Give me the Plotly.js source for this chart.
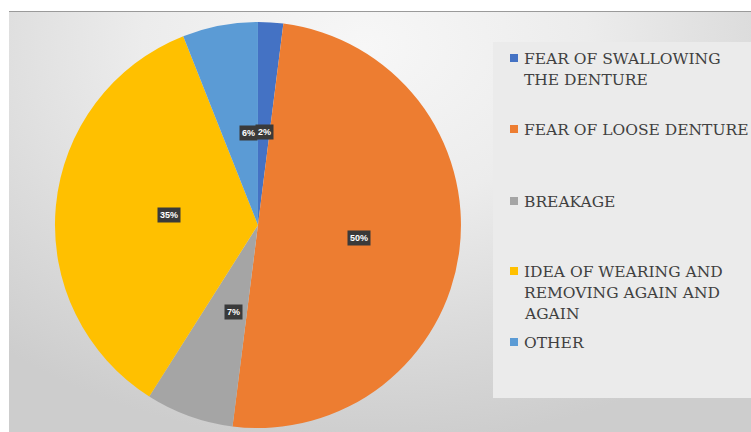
<!DOCTYPE html>
<html>
<head>
<meta charset="utf-8">
<script src="https://cdn.plot.ly/plotly-3.0.1.min.js"></script>
<style>
  html, body { margin:0; padding:0; background:#ffffff; }
  #wrap { position:relative; width:751px; height:432px; overflow:hidden; }
  #bg { position:absolute; left:9px; top:11px; width:742px; height:421px;
        border-top:1px solid #9a9a9a;
        background: radial-gradient(ellipse 75% 95% at 48% 8%, #f7f7f7 0%, #ececec 40%, #dcdcdc 70%, #cdcdcd 100%); }
  #chart { position:absolute; left:0; top:0; width:751px; height:432px; }
</style>
</head>
<body>
<div id="wrap"><div id="bg"></div><div id="chart"></div></div>
<script>
// ---- data ----
const categories = [
  "FEAR OF SWALLOWING<br>THE DENTURE",
  "FEAR OF LOOSE DENTURE",
  "BREAKAGE",
  "IDEA OF WEARING AND<br>REMOVING AGAIN AND<br>AGAIN",
  "OTHER"
];
const values = [2, 50, 7, 35, 6];
const colors = ["#4472C4", "#ED7D31", "#A5A5A5", "#FFC000", "#5B9BD5"];

// ---- layout constants ----
const W = 751, H = 432;
const domX = [0.0732, 0.6138];
const domY = [0.0093, 0.9491];
const legendFirstLineY = [59, 130, 202, 272, 343];
const legendLineGap = 21;
const legendTextX = 522;
const legendMarkX = 514;
const serif = 'DejaVu Serif';

const total = values.reduce((a, b) => a + b, 0);
const cx = (domX[0] + domX[1]) / 2 * W;
const cyPaper = (domY[0] + domY[1]) / 2;
const cy = (1 - cyPaper) * H;
const R = Math.min((domX[1] - domX[0]) * W, (domY[1] - domY[0]) * H) / 2;

const annotations = [];
const shapes = [];

// slice labels (dark boxes), placed at mid-angle, half radius
let cum = 0;
values.forEach((v, i) => {
  const mid = (cum + v / 2) / total * 2 * Math.PI;
  cum += v;
  const px = cx + 0.5 * R * Math.sin(mid);
  const py = cy - 0.5 * R * Math.cos(mid);
  annotations.push({
    x: px / W, y: 1 - py / H, xref: 'paper', yref: 'paper',
    text: Math.round(v / total * 100) + '%',
    showarrow: false,
    font: { family: 'Liberation Sans', size: 9, color: '#ffffff', weight: 'bold' },
    bgcolor: '#3a3a3a', borderpad: 2
  });
});

// custom legend
categories.forEach((c, i) => {
  const lines = c.split('<br>');
  lines.forEach((ln, j) => {
    annotations.push({
      x: legendTextX / W, y: 1 - (legendFirstLineY[i] + j * legendLineGap) / H,
      xref: 'paper', yref: 'paper', xanchor: 'left', yanchor: 'middle',
      text: ln, showarrow: false,
      font: { family: serif, size: 15.5, color: '#404040' }
    });
  });
  const my = legendFirstLineY[i] - 1;
  shapes.push({
    type: 'rect', xref: 'paper', yref: 'paper',
    x0: (legendMarkX - 4) / W, x1: (legendMarkX + 4) / W,
    y0: 1 - (my + 4) / H, y1: 1 - (my - 4) / H,
    fillcolor: colors[i], line: { width: 0 }
  });
});

// legend panel
shapes.unshift({
  type: 'rect', xref: 'paper', yref: 'paper', layer: 'below',
  x0: 493 / W, x1: 1, y0: 1 - 398 / H, y1: 1 - 42 / H,
  fillcolor: '#ebebeb', line: { width: 0 }
});

const trace = {
  type: 'pie',
  labels: categories,
  values: values,
  sort: false,
  direction: 'clockwise',
  rotation: 0,
  marker: { colors: colors, line: { width: 0 } },
  textinfo: 'none',
  hoverinfo: 'label+percent',
  domain: { x: domX, y: domY },
  showlegend: false
};

const layout = {
  width: W, height: H,
  margin: { l: 0, r: 0, t: 0, b: 0 },
  paper_bgcolor: 'rgba(0,0,0,0)',
  plot_bgcolor: 'rgba(0,0,0,0)',
  showlegend: false,
  annotations: annotations,
  shapes: shapes
};

Plotly.newPlot('chart', [trace], layout, { displayModeBar: false, staticPlot: true });
</script>
</body>
</html>
